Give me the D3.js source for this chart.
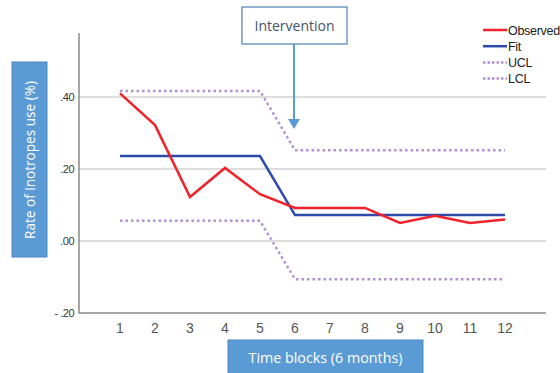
<!DOCTYPE html>
<html>
<head>
<meta charset="utf-8">
<script src="https://cdn.jsdelivr.net/npm/d3@7"></script>
<style>
  body { margin: 0; background: #fff; }
  svg { display: block; }
</style>
</head>
<body>
<div id="chart"></div>
<script>
const blocks = [1, 2, 3, 4, 5, 6, 7, 8, 9, 10, 11, 12];
const observed = [0.41, 0.322, 0.122, 0.203, 0.13, 0.092, 0.092, 0.092, 0.05, 0.07, 0.05, 0.06];
const fit = [0.236, 0.236, 0.236, 0.236, 0.236, 0.072, 0.072, 0.072, 0.072, 0.072, 0.072, 0.072];
const ucl = [0.417, 0.417, 0.417, 0.417, 0.417, 0.252, 0.252, 0.252, 0.252, 0.252, 0.252, 0.252];
const lcl = [0.056, 0.056, 0.056, 0.056, 0.056, -0.106, -0.106, -0.106, -0.106, -0.106, -0.106, -0.106];
const yTicks = [-0.2, 0, 0.2, 0.4];
const seriesNames = ["Observed", "Fit", "UCL", "LCL"];

const W = 560, H = 373;
const svg = d3.select("#chart").append("svg")
    .attr("width", W)
    .attr("height", H);

// plot frame: y axis at x=79, x axis at y=313
const x = d3.scaleLinear().domain([1 - 41 / 35, 12 + 41 / 35]).range([79, 546]);
const y = d3.scaleLinear().domain([-0.2, 0.4]).range([313, 97]);

const narrow = "'Liberation Sans Narrow', 'Arial Narrow', 'Liberation Sans', sans-serif";

// gridlines
svg.append("g")
    .selectAll("line")
    .data(yTicks.filter(d => d > -0.2))
    .enter()
    .append("line")
    .attr("x1", x.range()[0])
    .attr("x2", x.range()[1])
    .attr("y1", d => y(d))
    .attr("y2", d => y(d))
    .attr("stroke", "#d2d2d2")
    .attr("stroke-width", 1.5);

// axes lines
svg.append("line")
    .attr("x1", 79).attr("x2", 79)
    .attr("y1", 33).attr("y2", y(-0.2))
    .attr("stroke", "#8a8a8a").attr("stroke-width", 1.5);
svg.append("line")
    .attr("x1", 79).attr("x2", x.range()[1])
    .attr("y1", y(-0.2)).attr("y2", y(-0.2))
    .attr("stroke", "#8a8a8a").attr("stroke-width", 1.5);

// y tick labels
const fmt = d => d === 0 ? ".00" : (d < 0 ? "- " : "") + d3.format(".2f")(Math.abs(d)).replace(/^0/, "");
svg.append("g")
    .selectAll("text")
    .data(yTicks)
    .enter()
    .append("text")
    .attr("x", 74)
    .attr("y", d => y(d) + 4)
    .attr("text-anchor", "end")
    .style("font-family", narrow)
    .style("font-size", "11px")
    .style("letter-spacing", "-0.5px")
    .attr("fill", "#333")
    .text(fmt);

// x tick labels
svg.append("g")
    .selectAll("text")
    .data(blocks)
    .enter()
    .append("text")
    .attr("x", d => x(d))
    .attr("y", 333)
    .attr("text-anchor", "middle")
    .style("font-family", "'Liberation Sans', Arial, sans-serif")
    .style("font-size", "14px")
    .attr("fill", "#555")
    .text(d => d);

const line = d3.line()
    .x((d, i) => x(blocks[i]))
    .y(d => y(d));

// control limits
[ucl, lcl].forEach(s => {
    svg.append("path")
        .datum(s)
        .attr("fill", "none")
        .attr("stroke", "#b48fd2")
        .attr("stroke-width", 2.5)
        .attr("stroke-dasharray", "2.5,3")
        .attr("d", line);
});

svg.append("path")
    .datum(fit)
    .attr("fill", "none")
    .attr("stroke", "#2d49aa")
    .attr("stroke-width", 2.5)
    .attr("d", line);

svg.append("path")
    .datum(observed)
    .attr("fill", "none")
    .attr("stroke", "#f2222b")
    .attr("stroke-width", 2.5)
    .attr("d", line);

// legend
const legendStyle = [
    { color: "#f2222b", dash: null },
    { color: "#2d49aa", dash: null },
    { color: "#b48fd2", dash: "2.5,2" },
    { color: "#b48fd2", dash: "2.5,2" }
];
const legend = svg.append("g");
seriesNames.forEach((name, i) => {
    const ly = 30 + i * 16.2;
    legend.append("line")
        .attr("x1", 483).attr("x2", 507)
        .attr("y1", ly).attr("y2", ly)
        .attr("stroke", legendStyle[i].color)
        .attr("stroke-width", 2.5)
        .attr("stroke-dasharray", legendStyle[i].dash);
    legend.append("text")
        .attr("x", 508)
        .attr("y", ly + 4.5)
        .style("font-family", narrow)
        .style("font-size", "12.5px")
        .style("letter-spacing", "-0.3px")
        .attr("fill", "#222")
        .text(name);
});

// intervention callout
svg.append("rect")
    .attr("x", 242).attr("y", 7)
    .attr("width", 105).attr("height", 37)
    .attr("fill", "#fff")
    .attr("stroke", "#4f81b3")
    .attr("stroke-width", 1.2);
svg.append("text")
    .attr("x", 294.5).attr("y", 31)
    .attr("text-anchor", "middle")
    .style("font-family", "'Open Sans', sans-serif")
    .style("font-size", "14px")
    .attr("fill", "#44546a")
    .text("Intervention");
svg.append("line")
    .attr("x1", 294).attr("x2", 294)
    .attr("y1", 44).attr("y2", 120)
    .attr("stroke", "#5b9bd5")
    .attr("stroke-width", 2);
svg.append("path")
    .attr("d", "M288,119 L300,119 L294,129 Z")
    .attr("fill", "#5b9bd5");

// y axis label box
svg.append("rect")
    .attr("x", 12).attr("y", 62)
    .attr("width", 35).attr("height", 195)
    .attr("fill", "#5b9bd5")
    .attr("stroke", "#4a88c4")
    .attr("stroke-width", 1);
svg.append("text")
    .attr("transform", "translate(34.5,160) rotate(-90)")
    .attr("text-anchor", "middle")
    .style("font-family", "'Open Sans', sans-serif")
    .style("font-size", "13.6px")
    .attr("fill", "#fff")
    .text("Rate of inotropes use (%)");

// x axis label box
svg.append("rect")
    .attr("x", 228).attr("y", 340)
    .attr("width", 195).attr("height", 40)
    .attr("fill", "#5b9bd5")
    .attr("stroke", "#4a88c4")
    .attr("stroke-width", 1);
svg.append("text")
    .attr("x", 325.5).attr("y", 362.5)
    .attr("text-anchor", "middle")
    .style("font-family", "'Open Sans', sans-serif")
    .style("font-size", "14.3px")
    .attr("fill", "#fff")
    .text("Time blocks (6 months)");
</script>
</body>
</html>
